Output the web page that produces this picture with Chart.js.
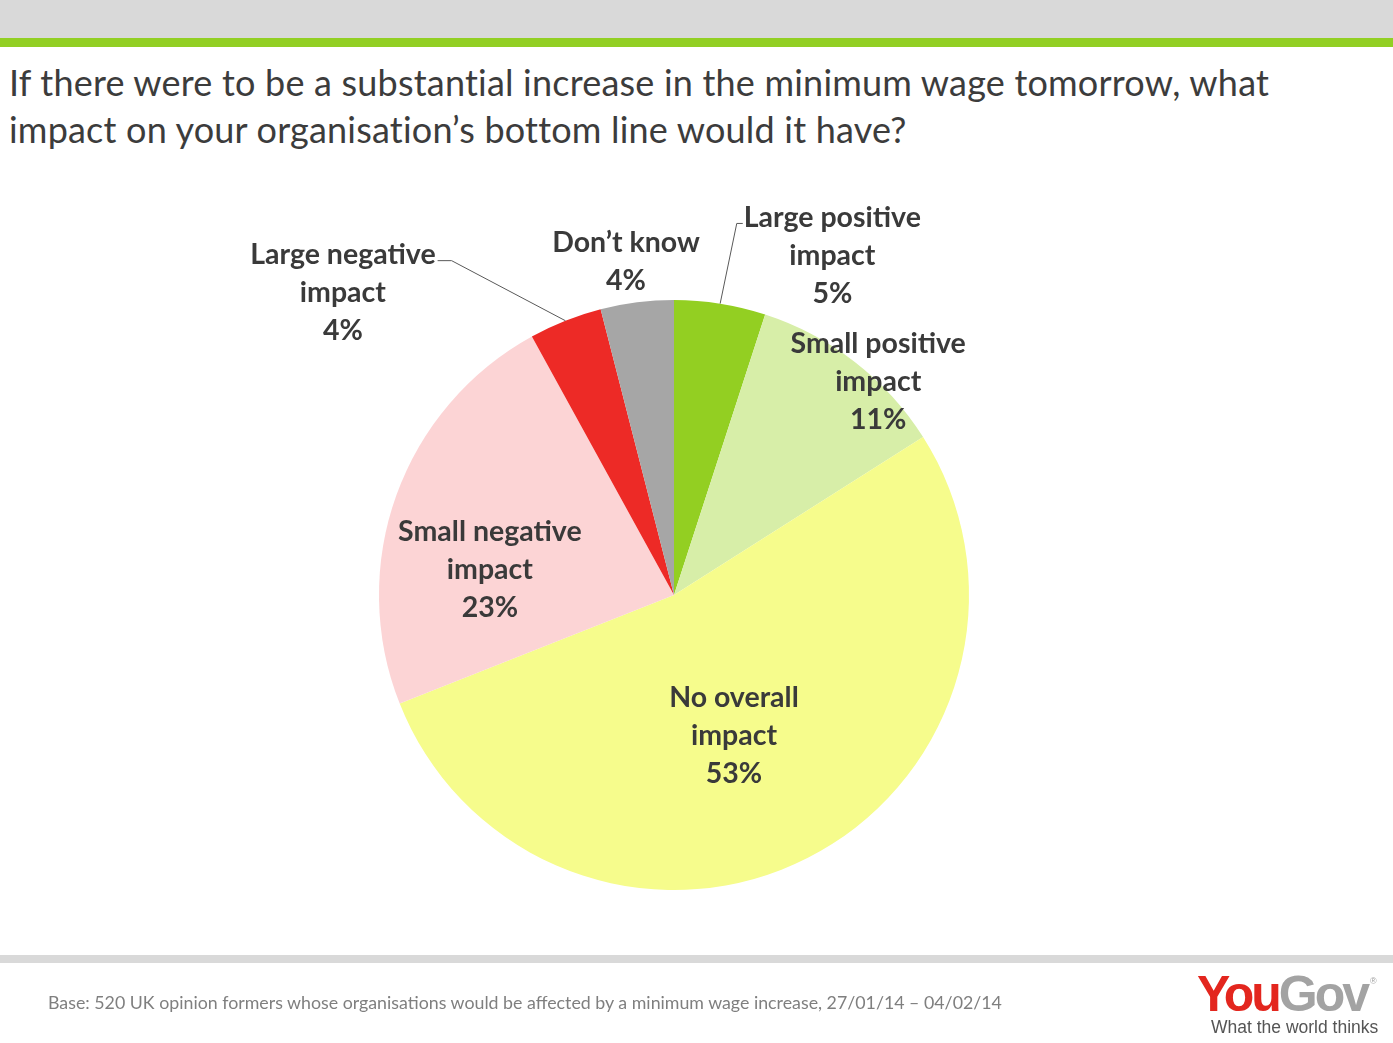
<!DOCTYPE html>
<html>
<head>
<meta charset="utf-8">
<script src="https://cdn.jsdelivr.net/npm/chart.js@4/dist/chart.umd.min.js"></script>
<style>
  body { margin: 0; width: 1393px; height: 1043px; background: #fff; position: relative; overflow: hidden; font-family: Lato, "Open Sans", sans-serif; }
  #topBand { position: absolute; left: 0; top: 0; width: 1393px; height: 38px; background: #d9d9d9; }
  #greenBand { position: absolute; left: 0; top: 38px; width: 1393px; height: 9px; background: #92cf24; }
  #title { position: absolute; left: 9px; top: 59px; font-size: 36px; line-height: 47px; color: #3c3c3c; letter-spacing: 0.2px; }
  #footBand { position: absolute; left: 0; top: 955px; width: 1393px; height: 8px; background: #d9d9d9; }
  #base { position: absolute; left: 48px; top: 991px; font-size: 17.8px; color: #7f7f7f; }
  #logo { position: absolute; left: 1197px; top: 966px; font-family: "Liberation Sans", Arial, sans-serif; font-weight: bold; font-size: 50px; letter-spacing: -3px; line-height: 56px; }
  #logo .you { color: #e3261e; }
  #logo .gov { color: #a3a3a3; }
  #reg { position: absolute; left: 1370px; top: 976px; font-family: "Liberation Sans", Arial, sans-serif; font-size: 9px; color: #a3a3a3; }
  #tag { position: absolute; left: 1211px; top: 1017px; font-family: "Liberation Sans", Arial, sans-serif; font-size: 17.5px; color: #555; }
  #chartBox { position: absolute; left: 0; top: 150px; width: 1348px; height: 890px; }
</style>
</head>
<body>
<div id="topBand"></div>
<div id="greenBand"></div>
<div id="title">If there were to be a substantial increase in the minimum wage tomorrow, what<br>impact on your organisation’s bottom line would it have?</div>
<div id="chartBox"><canvas id="pieChart"></canvas></div>
<div id="footBand"></div>
<div id="base">Base: 520 UK opinion formers whose organisations would be affected by a minimum wage increase, 27/01/14 – 04/02/14</div>
<div id="logo"><span class="you">You</span><span class="gov">Gov</span></div>
<div id="reg">®</div>
<div id="tag">What the world thinks</div>

<script>
// categories and values (clockwise from 12 o'clock)
var categories = ['Large positive impact', 'Small positive impact', 'No overall impact', 'Small negative impact', 'Large negative impact', 'Don’t know'];
var labelLines = [['Large positive', 'impact'], ['Small positive', 'impact'], ['No overall', 'impact'], ['Small negative', 'impact'], ['Large negative', 'impact'], ['Don’t know']];
var values = [5, 11, 53, 23, 4, 4];
var sliceColors = ['#93cf22', '#d7eea8', '#f6fc8c', '#fcd4d5', '#ed2a26', '#a6a6a6'];

// where each label sits: angle shift (deg) from slice middle, distance as fraction of radius, leader line
var labelPlace = [
    { shift: 16, dist: 1.27, leader: 'left' },
    { shift: 6, dist: 1.0 },
    { shift: 4, dist: 0.52 },
    { shift: -12, dist: 0.63 },
    { shift: -26, dist: 1.52, leader: 'right' },
    { shift: -1, dist: 1.14 }
];

var pieLabels = {
    id: 'pieLabels',
    afterDatasetsDraw: function(chart) {
        var ctx = chart.ctx;
        var meta = chart.getDatasetMeta(0);
        var lineH = 38;
        ctx.save();
        ctx.font = 'bold 28.5px Lato, "Open Sans", sans-serif';
        ctx.fillStyle = '#3a3a3a';
        ctx.textAlign = 'center';
        ctx.textBaseline = 'middle';
        meta.data.forEach(function(arc, i) {
            var p = labelPlace[i];
            var mid = (arc.startAngle + arc.endAngle) / 2;
            var a = mid + p.shift * Math.PI / 180;
            var r = arc.outerRadius * p.dist;
            var cx = arc.x + Math.cos(a) * r;
            var cy = arc.y + Math.sin(a) * r;
            var lines = labelLines[i].concat([values[i] + '%']);
            var top = cy - (lines.length - 1) * lineH / 2;
            lines.forEach(function(t, k) {
                ctx.fillText(t, cx, top + k * lineH);
            });
            if (p.leader) {
                // leader line from first text line to slice edge
                var w = ctx.measureText(lines[0]).width;
                var ex = arc.x + Math.cos(mid) * arc.outerRadius;
                var ey = arc.y + Math.sin(mid) * arc.outerRadius;
                var sx, kx;
                if (p.leader === 'left') { sx = cx - w / 2 - 1; kx = sx - 6; }
                else { sx = cx + w / 2 + 2; kx = sx + 14; }
                var sy = top + 6;
                ctx.beginPath();
                ctx.strokeStyle = '#595959';
                ctx.lineWidth = 1;
                ctx.moveTo(sx, sy);
                ctx.lineTo(kx, sy);
                ctx.lineTo(ex, ey);
                ctx.stroke();
            }
        });
        ctx.restore();
    }
};

var ctx = document.getElementById('pieChart').getContext('2d');
var pieChart = new Chart(ctx, {
    type: 'pie',
    data: {
        labels: categories,
        datasets: [{
            data: values,
            backgroundColor: sliceColors,
            borderWidth: 0
        }]
    },
    options: {
        responsive: true,
        maintainAspectRatio: false,
        animation: false,
        layout: { padding: 150 },
        plugins: {
            legend: { display: false },
            tooltip: { enabled: false }
        }
    },
    plugins: [pieLabels]
});
</script>
</body>
</html>
